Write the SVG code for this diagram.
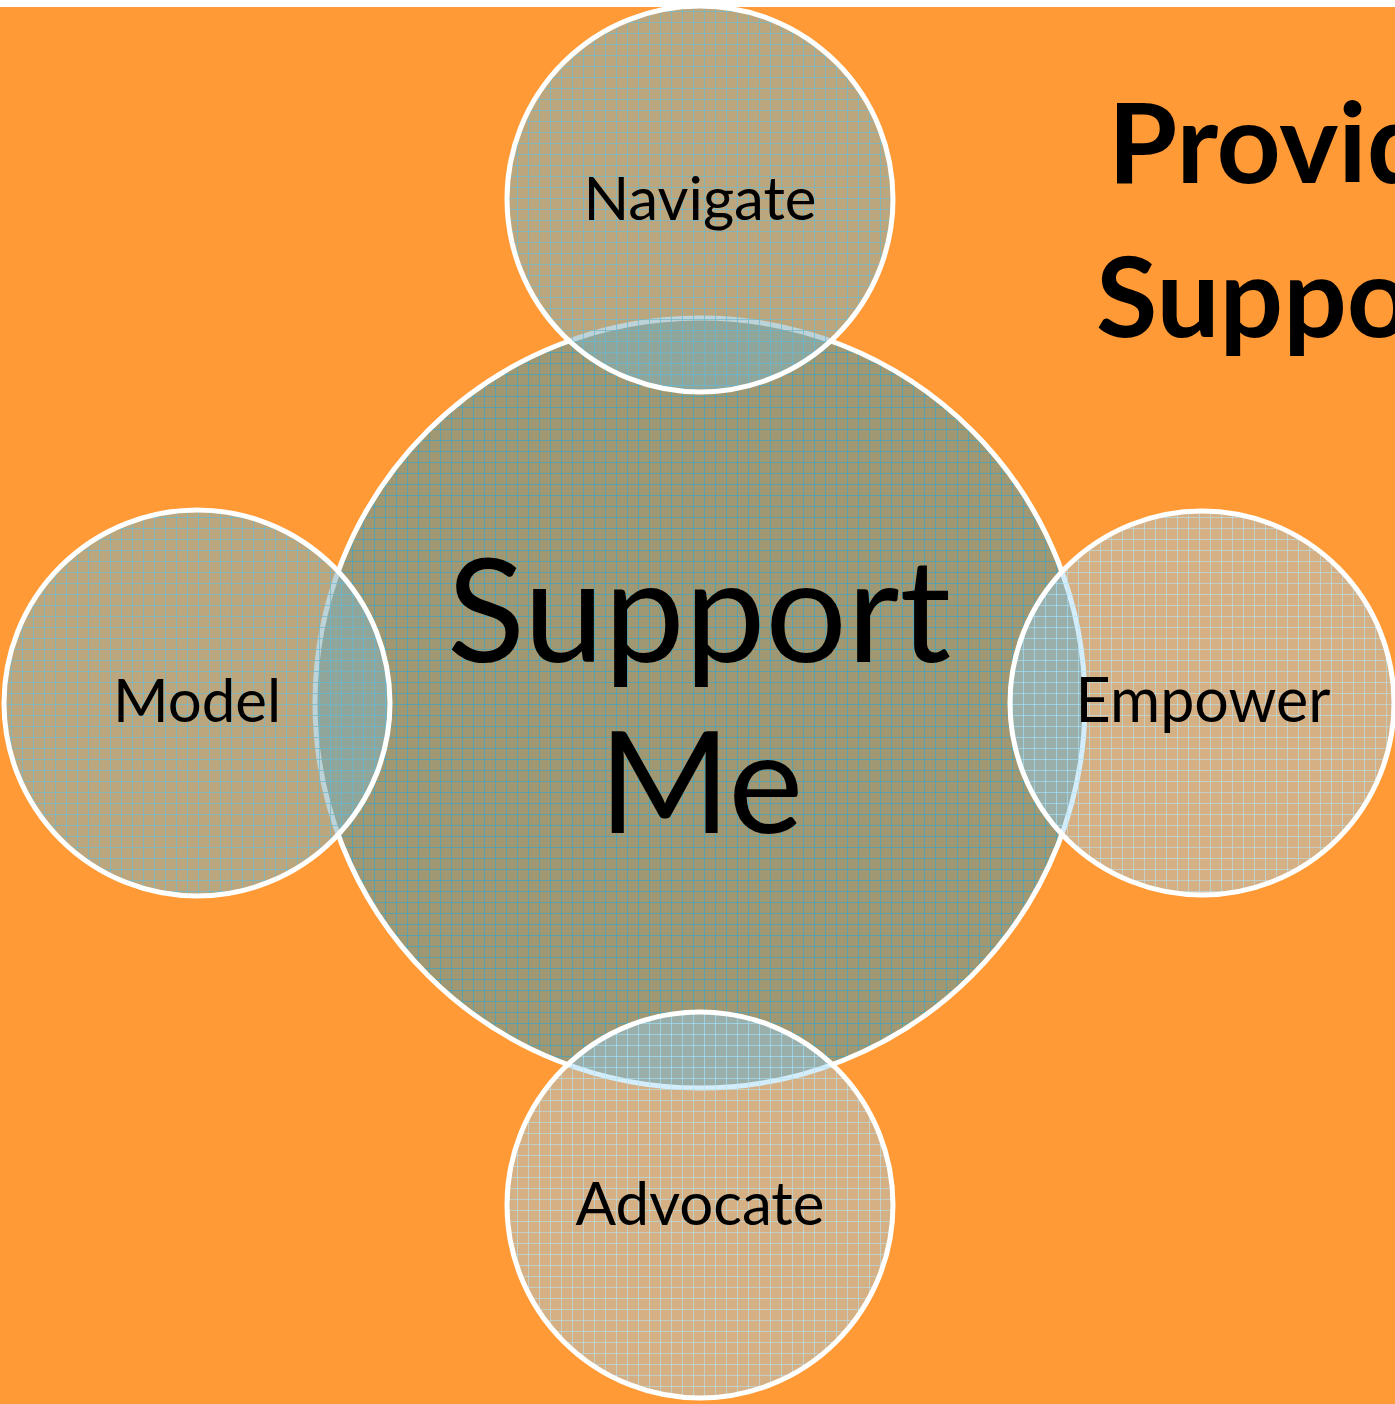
<svg xmlns="http://www.w3.org/2000/svg" width="1395" height="1404" viewBox="0 0 1395 1404">
  <style>
    .ring { stroke: #FFFFFF; stroke-width: 5; }
    .label { font-family: Lato, "Open Sans", "Liberation Sans", sans-serif; fill: #000000; text-anchor: middle; }
    .title { font-family: Lato, "Open Sans", "Liberation Sans", sans-serif; font-weight: bold; fill: #000000; }
  </style>
  <defs>
    <!-- graph-paper textures -->
    <pattern id="gridCore" width="11" height="11" patternUnits="userSpaceOnUse">
      <rect width="11" height="11" fill="#9F9873"/>
      <path d="M0.5 0V11M0 0.5H11" stroke="#4FA2B4" stroke-opacity="0.85" stroke-width="1" fill="none"/>
    </pattern>
    <pattern id="gridDark" width="11" height="11" patternUnits="userSpaceOnUse">
      <rect width="11" height="11" fill="#85B1B9" fill-opacity="0.55"/>
      <path d="M0.5 0V11M0 0.5H11" stroke="#6FB8CC" stroke-opacity="0.7" stroke-width="1" fill="none"/>
    </pattern>
    <pattern id="gridLight" width="11" height="11" patternUnits="userSpaceOnUse">
      <rect width="11" height="11" fill="#93D1F9" fill-opacity="0.4"/>
      <path d="M0.5 0V11M0 0.5H11" stroke="#B5E2F2" stroke-opacity="0.6" stroke-width="1" fill="none"/>
    </pattern>
  </defs>

  <!-- backdrop -->
  <rect x="0" y="0" width="1395" height="1404" fill="#FF9A36"/>
  <rect x="0" y="0" width="1395" height="7" fill="#FFFFFF"/>

  <!-- heading, runs off the right edge -->
  <g id="heading">
    <text class="title" x="1108" y="183" font-size="112">Provide</text>
    <text class="title" x="1096" y="337" font-size="112">Support</text>
  </g>

  <g id="support-me">
    <circle class="ring" cx="700" cy="703" r="385" fill="url(#gridCore)"/>
    <text class="label" x="699" y="662" font-size="144" textLength="504" lengthAdjust="spacingAndGlyphs">Support</text>
    <text class="label" x="701" y="833" font-size="142">Me</text>
  </g>

  <g id="navigate">
    <circle class="ring" cx="700" cy="199" r="193" fill="url(#gridDark)"/>
    <text class="label" x="700" y="220" font-size="60">Navigate</text>
  </g>

  <g id="model">
    <circle class="ring" cx="197" cy="703" r="193" fill="url(#gridDark)"/>
    <text class="label" x="197" y="722" font-size="60">Model</text>
  </g>

  <g id="empower">
    <circle class="ring" cx="1202" cy="703" r="192" fill="url(#gridLight)"/>
    <text class="label" x="1203" y="722" font-size="61">Empower</text>
  </g>

  <g id="advocate">
    <circle class="ring" cx="700" cy="1205" r="193" fill="url(#gridLight)"/>
    <text class="label" x="700" y="1225" font-size="60">Advocate</text>
  </g>

  <g id="connectors"/>
</svg>
